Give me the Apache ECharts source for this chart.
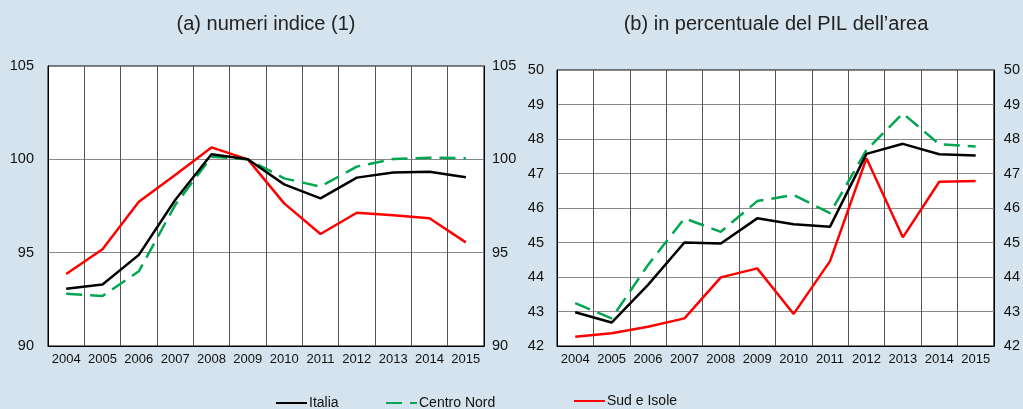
<!DOCTYPE html>
<html lang="it">

<head>
    <meta charset="UTF-8">
    <title>PIL per area</title>
    <script src="https://cdn.jsdelivr.net/npm/echarts@6/dist/echarts.min.js"></script>
    <style>
        html, body { margin: 0; padding: 0; background: #d4e3ed; }
        #chart { width: 1023px; height: 409px; }
    </style>
</head>

<body>
    <div id="chart"></div>
    <script>
        // anni
        const years = ['2004', '2005', '2006', '2007', '2008', '2009', '2010', '2011', '2012', '2013', '2014', '2015'];

        // (a) numeri indice
        const idxItalia = [93.07, 93.29, 94.88, 97.82, 100.27, 100, 98.66, 97.91, 99.02, 99.3, 99.33, 99.04];
        const idxCentroNord = [92.8, 92.68, 94.0, 97.55, 100.14, 100, 98.98, 98.54, 99.61, 100.02, 100.09, 100.06];
        const idxSud = [93.86, 95.18, 97.73, 99.16, 100.64, 100, 97.64, 96.0, 97.14, 97.0, 96.84, 95.55];

        // (b) in percentuale del PIL dell'area
        const pctItalia = [42.98, 42.68, 43.77, 45.0, 44.97, 45.7, 45.53, 45.46, 47.57, 47.86, 47.56, 47.52];
        const pctCentroNord = [43.24, 42.8, 44.35, 45.7, 45.31, 46.2, 46.38, 45.85, 47.68, 48.74, 47.85, 47.78];
        const pctSud = [42.27, 42.37, 42.56, 42.8, 43.99, 44.25, 42.93, 44.46, 47.44, 45.15, 46.76, 46.78];

        const titles = ['(a) numeri indice (1)', '(b) in percentuale del PIL dell\u2019area'];
        const names = ['Italia', 'Centro Nord', 'Sud e Isole'];

        const FONT = '"Liberation Sans", Arial, sans-serif';
        const colors = ['#000000', '#00a650', '#ff0000'];

        function xAxisOf(gridIndex) {
            return {
                type: 'category',
                gridIndex: gridIndex,
                data: years,
                boundaryGap: true,
                axisLine: { lineStyle: { color: '#000', width: 1 } },
                axisTick: { show: false, interval: 0 },
                axisLabel: { interval: 0, color: '#111', fontSize: 13, fontFamily: FONT, margin: 7 },
                splitLine: { show: true, interval: 0, lineStyle: { color: '#555', width: 1 } }
            };
        }

        function yAxisOf(gridIndex, pos, min, max, interval, margin) {
            return {
                type: 'value',
                gridIndex: gridIndex,
                position: pos,
                min: min,
                max: max,
                interval: interval,
                axisLine: { show: true, lineStyle: { color: '#000', width: 1 } },
                axisTick: { show: false },
                axisLabel: { color: '#111', fontSize: 14.5, fontFamily: FONT, margin: margin },
                splitLine: { show: pos === 'left', lineStyle: { color: '#888', width: 1 } }
            };
        }

        function lineSeries(i, data, xi, yi) {
            return {
                name: names[i],
                type: 'line',
                data: data,
                xAxisIndex: xi,
                yAxisIndex: yi,
                symbol: 'none',
                z: i === 2 ? 3 : (i === 1 ? 4 : 5),
                lineStyle: {
                    color: colors[i],
                    width: 2.5,
                    type: i === 1 ? [16, 8] : 'solid'
                },
                itemStyle: { color: colors[i] }
            };
        }

        // una legenda per voce, come nell'originale
        function legendOf(name, left, top) {
            return {
                data: [name],
                left: left,
                top: top,
                itemWidth: 31,
                itemHeight: 12,
                itemGap: 2,
                itemStyle: { opacity: 0 },
                textStyle: { color: '#111', fontSize: 14, fontFamily: FONT, padding: [0, 0, 0, -3] }
            };
        }

        let myChart = echarts.init(document.getElementById('chart'), null, { renderer: 'canvas' });

        let option = {
            backgroundColor: '#d4e3ed',
            animation: false,
            title: [
                { text: titles[0], left: 261, top: 9, textAlign: 'center',
                  textStyle: { fontSize: 20, fontWeight: 'normal', color: '#222', fontFamily: FONT } },
                { text: titles[1], left: 771, top: 9, textAlign: 'center',
                  textStyle: { fontSize: 20, fontWeight: 'normal', color: '#222', fontFamily: FONT } }
            ],
            legend: [
                legendOf(names[0], 270, 391),
                legendOf(names[1], 380, 391),
                legendOf(names[2], 568, 389)
            ],
            grid: [
                { left: 48, top: 66, width: 436, height: 280, show: true,
                  backgroundColor: '#fff', borderColor: '#000', borderWidth: 1 },
                { left: 557, top: 70, width: 443, height: 276, show: true,
                  backgroundColor: '#fff', borderColor: '#000', borderWidth: 1 }
            ],
            xAxis: [xAxisOf(0), xAxisOf(1)],
            yAxis: [
                yAxisOf(0, 'left', 90, 105, 5, 14),
                yAxisOf(0, 'right', 90, 105, 5, 8),
                yAxisOf(1, 'left', 42, 50, 1, 13),
                yAxisOf(1, 'right', 42, 50, 1, 10)
            ],
            series: [
                lineSeries(2, idxSud, 0, 0),
                lineSeries(1, idxCentroNord, 0, 0),
                lineSeries(0, idxItalia, 0, 0),
                lineSeries(2, pctSud, 1, 2),
                lineSeries(1, pctCentroNord, 1, 2),
                lineSeries(0, pctItalia, 1, 2)
            ]
        };

        myChart.setOption(option);
    </script>
</body>

</html>
